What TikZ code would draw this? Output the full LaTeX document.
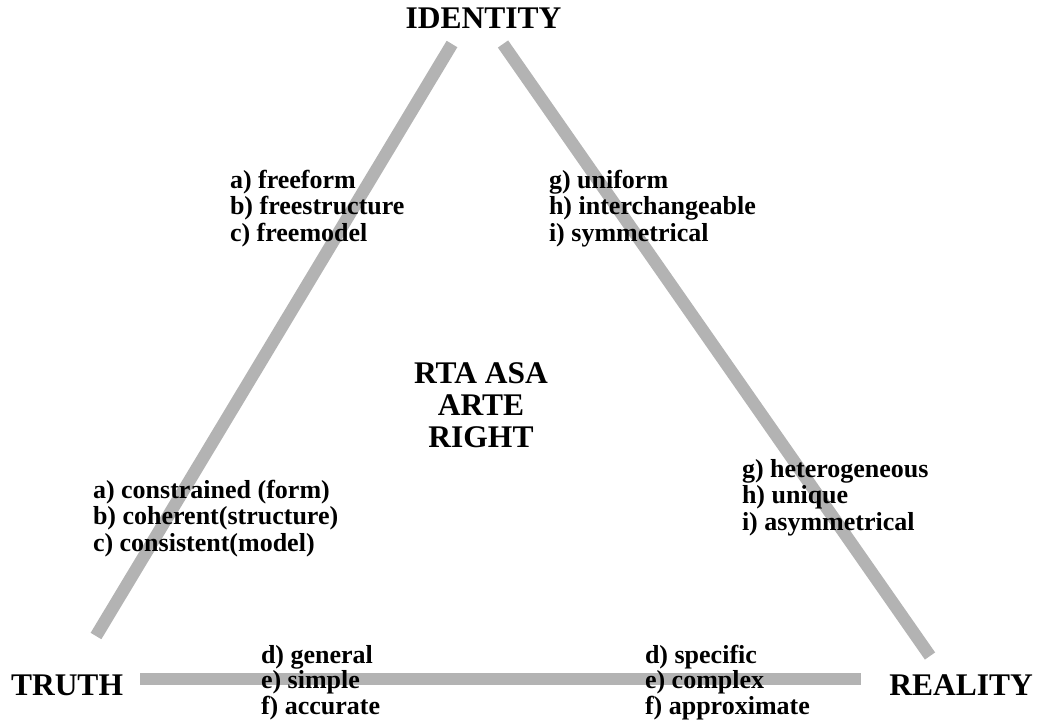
\documentclass[tikz,border=0pt]{standalone}
\usepackage{fontspec}
\setmainfont{Liberation Serif}
\definecolor{bargray}{RGB}{179,179,179}
\newcommand{\blk}[2]{\begin{tabular}[t]{@{}#1@{}}#2\end{tabular}}
\tikzset{
  bar/.style={draw=bargray, line width=12.5pt, line cap=butt},
  lbl/.style={inner sep=0pt, outer sep=0pt, text=black, font=\bfseries\fontsize{26}{26.5}\selectfont},
  lowlbl/.style={lbl, font=\bfseries\fontsize{26}{25}\selectfont},
  corner/.style={inner sep=0pt, outer sep=0pt, text=black, font=\bfseries\fontsize{31.5}{32}\selectfont},
}
\begin{document}
\begin{tikzpicture}[x=1pt, y=-1pt]
\path[use as bounding box] (0,0) rectangle (1039,723);
% bar end points
\coordinate (L1) at (452,44);
\coordinate (L2) at (96,636);
\coordinate (R1) at (503,44);
\coordinate (R2) at (930,656);
\coordinate (B1) at (140,679);
\coordinate (B2) at (861,679);
\draw[bar] (L1) -- (L2);
\draw[bar] (R1) -- (R2);
\draw[bar] (B1) -- (B2);
% corner labels
\node[corner, anchor=base] (identity) at (483.5,28) {IDENTITY};
\node[corner, anchor=base west] (truth) at (11,695) {TRUTH};
\node[corner, anchor=base east] (reality) at (1033,695) {REALITY};
% centre
\node[corner, anchor=base] (centre) at (481,383) {\blk{c}{RTA ASA\\ARTE\\RIGHT}};
% side labels
\node[lbl, anchor=base west] (freeb) at (230,188) {\blk{l}{a) freeform\\b) freestructure\\c) freemodel}};
\node[lbl, anchor=base west] (unib) at (549,188) {\blk{l}{g) uniform\\h) interchangeable\\i) symmetrical}};
\node[lbl, anchor=base west] (consb) at (93,498) {\blk{l}{a) constrained (form)\\b) coherent(structure)\\c) consistent(model)}};
\node[lbl, anchor=base west] (hetb) at (742,477) {\blk{l}{g) heterogeneous\\h) unique\\i) asymmetrical}};
\node[lowlbl, anchor=base west] (genb) at (261,663) {\blk{l}{d) general\\e) simple\\f) accurate}};
\node[lowlbl, anchor=base west] (specb) at (645,663) {\blk{l}{d) specific\\e) complex\\f) approximate}};
\end{tikzpicture}
\end{document}
